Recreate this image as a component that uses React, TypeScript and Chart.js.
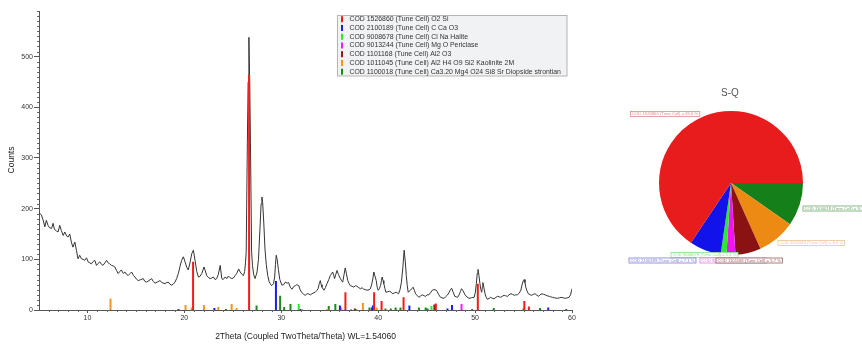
import React, { useEffect, useRef } from 'react';
import { Chart, registerables } from 'chart.js';
Chart.register(...registerables);

// ---------- diffractogram ----------
const twoTheta = [
  5.0, 5.24, 5.45, 5.6, 5.76, 5.93, 6.1, 6.3, 6.45, 6.6, 6.8, 6.97, 7.14, 7.3, 7.5, 7.66, 7.85, 8.0, 8.17, 8.34,
  8.5, 8.7, 8.86, 9.03, 9.2, 9.38, 9.55, 9.72, 9.9, 10.07, 10.25, 10.4, 10.6, 10.76, 10.93, 11.1, 11.28, 11.45, 11.6, 11.8,
  11.97, 12.14, 12.3, 12.48, 12.65, 12.83, 13.0, 13.17, 13.35, 13.5, 13.7, 13.86, 14.0, 14.2, 14.4, 14.55, 14.75, 14.9, 15.05, 15.24,
  15.5, 15.76, 15.9, 16.1, 16.35, 16.62, 16.8, 16.97, 17.2, 17.48, 17.7, 18.0, 18.15, 18.34, 18.5, 18.7, 18.85, 19.03, 19.2, 19.38,
  19.55, 19.72, 19.9, 20.07, 20.25, 20.4, 20.6, 20.76, 20.93, 21.1, 21.28, 21.45, 21.6, 21.8, 22.03, 22.15, 22.3, 22.5, 22.65, 22.8,
  23.0, 23.17, 23.34, 23.5, 23.7, 23.86, 24.0, 24.2, 24.4, 24.55, 24.7, 24.9, 25.05, 25.24, 25.4, 25.6, 25.76, 25.95, 26.1, 26.22,
  26.3, 26.38, 26.5, 26.58, 26.66, 26.74, 26.82, 26.94, 27.03, 27.15, 27.3, 27.5, 27.65, 27.8, 27.92, 28.0, 28.08, 28.2, 28.32, 28.45,
  28.6, 28.75, 28.86, 29.0, 29.2, 29.32, 29.4, 29.48, 29.58, 29.7, 29.85, 30.07, 30.25, 30.41, 30.6, 30.76, 30.93,
  31.1, 31.27, 31.45, 31.6, 31.8, 31.95, 32.1, 32.3, 32.48, 32.65, 32.8, 33.0, 33.17, 33.35, 33.5, 33.65, 33.8, 33.92, 34.03, 34.12,
  34.2, 34.4, 34.55, 34.72, 34.9, 35.07, 35.2, 35.3, 35.42, 35.5, 35.62, 35.75, 35.9, 36.1, 36.22, 36.34, 36.48, 36.6, 36.72, 36.86,
  37.0, 37.13, 37.3, 37.48, 37.65, 37.8, 38.0, 38.17, 38.35, 38.5, 38.7, 38.86, 39.05, 39.2, 39.35, 39.45, 39.55, 39.65, 39.8, 39.9,
  40.0, 40.12, 40.24, 40.34, 40.41, 40.5, 40.58, 40.7, 40.8, 41.0, 41.17, 41.35, 41.5, 41.7, 41.86, 42.0, 42.1, 42.25, 42.4, 42.55,
  42.68, 42.8, 42.9, 43.0, 43.1, 43.2, 43.34, 43.47, 43.6, 43.75, 43.86, 44.0, 44.2, 44.4, 44.55, 44.75, 44.9, 45.05, 45.24, 45.4,
  45.58, 45.75, 45.86, 46.0, 46.1, 46.25, 46.44, 46.6, 46.8, 46.95, 47.13, 47.3, 47.45, 47.58, 47.72, 47.9, 48.05, 48.2, 48.35, 48.48,
  48.6, 48.75, 48.96, 49.15, 49.37, 49.6, 49.9, 50.03, 50.13, 50.22, 50.3, 50.4, 50.5, 50.6, 50.68, 50.75, 50.8, 50.9, 51.03, 51.15,
  51.27, 51.45, 51.6, 51.8, 51.96, 52.15, 52.3, 52.5, 52.65, 52.8, 53.0, 53.15, 53.34, 53.5, 53.68, 53.85, 54.03, 54.2, 54.37, 54.55,
  54.72, 54.85, 54.98, 55.06, 55.15, 55.23, 55.35, 55.5, 55.68, 55.85, 56.0, 56.2, 56.38, 56.55, 56.7, 56.9, 57.05, 57.23, 57.45, 57.65,
  57.8, 58.0, 58.2, 58.5, 58.7, 58.86, 59.1, 59.3, 59.5, 59.7, 59.85, 59.95, 60.0,
];
const counts = [
  192, 188, 176, 164, 177, 167, 162, 161, 171, 159, 156, 154, 167, 157, 147, 154, 146, 144, 150, 134,
  124, 134, 118, 101, 108, 101, 100, 98, 103, 95, 93, 91, 96, 98, 88, 92, 95, 90, 88, 93,
  98, 93, 91, 88, 87, 85, 78, 72, 76, 79, 72, 75, 71, 68, 72, 75, 68, 65, 61, 58,
  60, 62, 57, 55, 58, 62, 56, 53, 55, 58, 54, 52, 54, 55, 51, 49, 51, 55, 62, 72,
  86, 98, 105, 95, 84, 79, 95, 111, 118, 98, 76, 65, 66, 72, 85, 78, 68, 64, 62, 63,
  65, 60, 62, 70, 88, 62, 60, 65, 62, 67, 64, 62, 63, 68, 72, 81, 75, 70, 68, 76,
  91, 115, 330, 450, 538, 450, 330, 115, 88, 70, 62, 75, 100, 160, 210, 223, 212, 170, 120, 90,
  68, 56, 52, 48, 52, 65, 90, 108, 100, 80, 60, 49, 50, 55, 53, 54, 45,
  41, 46, 48, 50, 48, 40, 35, 31, 29, 32, 32, 30, 32, 34, 35, 38, 42, 52, 58, 50,
  45, 39, 44, 52, 60, 68, 72, 75, 68, 62, 70, 78, 70, 62, 58, 55, 70, 83, 72, 58,
  52, 48, 47, 45, 48, 47, 44, 42, 44, 41, 40, 39, 40, 42, 52, 62, 75, 68, 58, 45,
  39, 42, 48, 58, 65, 58, 52, 42, 35, 36, 37, 35, 32, 34, 35, 33, 32, 40, 55, 85,
  118, 95, 68, 48, 35, 37, 39, 42, 45, 38, 32, 29, 25, 28, 30, 28, 27, 30, 30, 34,
  39, 40, 40, 39, 36, 30, 25, 24, 23, 26, 29, 34, 40, 43, 36, 27, 26, 25, 30, 36,
  42, 38, 30, 26, 23, 24, 25, 35, 52, 72, 80, 68, 52, 40, 35, 45, 54, 45, 32, 25,
  21, 23, 25, 23, 22, 25, 27, 26, 25, 27, 29, 28, 27, 30, 32, 31, 29, 30, 30, 33,
  39, 50, 58, 60, 54, 45, 38, 32, 30, 29, 31, 32, 29, 27, 30, 32, 31, 30, 28, 27,
  26, 25, 24, 23, 24, 25, 24, 23, 24, 25, 30, 38, 42,
];

// ---------- reference patterns (sticks) ----------
const phaseNames = [
  'COD 1526860 (Tune Cell) O2 Si',
  'COD 2100189 (Tune Cell) C Ca O3',
  'COD 9008678 (Tune Cell) Cl Na Halite',
  'COD 9013244 (Tune Cell) Mg O Periclase',
  'COD 1101168 (Tune Cell) Al2 O3',
  'COD 1011045 (Tune Cell) Al2 H4 O9 Si2 Kaolinite 2M',
  'COD 1100018 (Tune Cell) Ca3.20 Mg4 O24 Si8 Sr Diopside strontian',
];
const phaseColors = ['#f01c1c', '#1c1cf0', '#22ee22', '#f020f0', '#8e1a1a', '#f7941d', '#1a8a1a'];

const quartzPos = [20.9, 26.68, 36.62, 39.58, 40.35, 42.62, 45.95, 50.28, 55.08, 55.55];
const quartzInt = [95, 464, 35, 35, 18, 25, 13, 52, 18, 7];
const calcitePos = [23.1, 29.45, 36.05, 39.45, 43.22, 47.15, 47.62, 57.55];
const calciteInt = [4, 57, 9, 9, 9, 3, 10, 5];
const halitePos = [31.8, 45.5];
const haliteInt = [12, 8];
const periclasePos = [48.6];
const periclaseInt = [12];
const aluminaPos = [19.4, 31.95, 37.6, 39.35, 45.8];
const aluminaInt = [2, 2, 3, 5, 11];
const kaolinitePos = [12.38, 20.12, 20.75, 22.02, 23.5, 24.88, 25.38, 32.1, 34.75, 36.2, 37.2, 37.72, 38.42, 39.85, 54.98];
const kaoliniteInt = [22, 10, 5, 10, 6, 12, 4, 2, 2, 5, 2, 2, 14, 5, 4];
const diopsidePos = [24.3, 27.45, 29.88, 30.3, 30.95, 34.9, 35.58, 39.1, 40.75, 41.3, 41.8, 42.3, 44.2, 44.9, 45.1, 49.7, 51.92, 56.7, 59.4];
const diopsideInt = [2, 9, 28, 6, 12, 8, 12, 5, 3, 3, 5, 5, 5, 5, 3, 2, 4, 4, 2];

const stickPos = [quartzPos, calcitePos, halitePos, periclasePos, aluminaPos, kaolinitePos, diopsidePos];
const stickInt = [quartzInt, calciteInt, haliteInt, periclaseInt, aluminaInt, kaoliniteInt, diopsideInt];

const xTickValues = [10, 20, 30, 40, 50, 60];
const yTickValues = [0, 100, 200, 300, 400, 500];

// ---------- semi-quantitative pie ----------
const pieLabels = [
  'COD 1100018 (Tune Cell) = 9.7 %',
  'COD 1011045 (Tune Cell) = 8.6 %',
  'COD 1101168 (Tune Cell) = 5.7 %',
  'COD 9013244 (Tune Cell) = 2.0 %',
  'COD 9008678 (Tune Cell) = 1.3 %',
  'COD 2100189 (Tune Cell) = 7.1 %',
  'COD 1526860 (Tune Cell) = 65.6 %',
];
const pieValues = [9.7, 8.6, 5.7, 2.0, 1.3, 7.1, 65.6];
const pieColors = ['#15801a', '#ec8a14', '#8a1212', '#f014f0', '#2ee82e', '#1212ea', '#e81c1c'];

const FONT = '"Liberation Sans", Arial, sans-serif';

export default function App() {
  const xrdRef = useRef<HTMLCanvasElement>(null);
  const pieRef = useRef<HTMLCanvasElement>(null);

  useEffect(() => {
    const curve = twoTheta.map((x, i) => ({ x, y: counts[i] }));
    const stickSets = stickPos.map((pos, k) => ({
      type: 'line' as const,
      label: phaseNames[k],
      data: pos.flatMap((p, i) => [
        { x: p, y: 0 },
        { x: p, y: stickInt[k][i] },
        { x: p, y: null as any },
      ]),
      borderColor: phaseColors[k],
      borderWidth: 2,
      pointRadius: 0,
      spanGaps: false,
      borderCapStyle: 'butt' as const,
      order: 1,
    }));

    const overlay = {
      id: 'xrdOverlay',
      afterDraw(chart: any) {
        const ctx = chart.ctx;
        const xs = chart.scales.x;
        const ys = chart.scales.y;
        const area = chart.chartArea;
        ctx.save();
        ctx.strokeStyle = '#666';
        ctx.lineWidth = 1;
        ctx.beginPath();
        for (let v = 6; v < 60; v++) {
          if (v % 10 === 0) continue;
          const px = Math.round(xs.getPixelForValue(v)) + 0.5;
          ctx.moveTo(px, area.bottom);
          ctx.lineTo(px, area.bottom + 2);
        }
        for (let v = 10; v <= 590; v += 10) {
          if (v % 100 === 0) continue;
          const py = Math.round(ys.getPixelForValue(v)) + 0.5;
          ctx.moveTo(area.left - 2, py);
          ctx.lineTo(area.left, py);
        }
        ctx.stroke();

        // axis titles
        ctx.fillStyle = '#222';
        ctx.font = `8.5px ${FONT}`;
        ctx.textAlign = 'center';
        ctx.textBaseline = 'middle';
        ctx.fillText('2Theta (Coupled TwoTheta/Theta) WL=1.54060', (area.left + area.right) / 2, 336.5);
        ctx.save();
        ctx.translate(11.5, 160);
        ctx.rotate(-Math.PI / 2);
        ctx.fillText('Counts', 0, 0);
        ctx.restore();

        // legend box
        ctx.fillStyle = '#f1f2f4';
        ctx.fillRect(337.5, 15.5, 229.5, 60.5);
        ctx.strokeStyle = '#b5b5b5';
        ctx.strokeRect(337.5, 15.5, 229.5, 60.5);
        ctx.font = `6.9px ${FONT}`;
        ctx.textAlign = 'left';
        phaseNames.forEach((name, i) => {
          const cy = 19.2 + i * 8.75;
          ctx.fillStyle = phaseColors[i];
          ctx.fillRect(341, cy - 3, 2, 6);
          ctx.fillStyle = '#333';
          ctx.fillText(name, 349.5, cy);
        });
        ctx.restore();
      },
    };

    const xrd = new Chart(xrdRef.current!, {
      type: 'line',
      data: {
        datasets: [
          {
            label: 'scan',
            data: curve,
            borderColor: '#333333',
            borderWidth: 1,
            pointRadius: 0,
            tension: 0,
            order: 10,
          } as any,
          ...stickSets,
        ],
      },
      options: {
        animation: false,
        responsive: false,
        maintainAspectRatio: false,
        devicePixelRatio: 1,
        layout: { padding: { left: 0, right: 28, top: 11, bottom: 0 } },
        plugins: { legend: { display: false }, tooltip: { enabled: false }, title: { display: false } },
        scales: {
          x: {
            type: 'linear',
            min: 5,
            max: 60,
            afterBuildTicks: (s: any) => {
              s.ticks = xTickValues.map((v) => ({ value: v }));
            },
            afterFit: (s: any) => {
              s.height = 34;
            },
            grid: { display: true, drawOnChartArea: false, drawTicks: true, tickLength: 3, color: '#555' },
            border: { display: true, color: '#555', width: 1 },
            ticks: { font: { family: FONT, size: 7 }, color: '#333', padding: 1, maxRotation: 0, autoSkip: false },
          },
          y: {
            type: 'linear',
            min: 0,
            max: 590,
            afterBuildTicks: (s: any) => {
              s.ticks = yTickValues.map((v) => ({ value: v }));
            },
            afterFit: (s: any) => {
              s.width = 39;
            },
            grid: { display: true, drawOnChartArea: false, drawTicks: true, tickLength: 5, color: '#555' },
            border: { display: true, color: '#555', width: 1 },
            ticks: { font: { family: FONT, size: 7 }, color: '#333', padding: 1, autoSkip: false },
          },
        },
      } as any,
      plugins: [overlay],
    });

    const labelBoxes = [
      { x: 203, y: 206, c: '#6aa86a' },
      { x: 178, y: 240.5, c: '#e6c79a' },
      { x: 116, y: 258, c: '#9a5a5a' },
      { x: 100, y: 258, c: '#e07ae0' },
      { x: 71, y: 252.5, c: '#8ee08e' },
      { x: 29, y: 258, c: '#7a7ad8' },
      { x: 30.5, y: 111.5, c: '#e28a8a' },
    ];
    const drawOrder = [6, 0, 1, 4, 5, 3, 2];

    const pieOverlay = {
      id: 'pieOverlay',
      afterDraw(chart: any) {
        const ctx = chart.ctx;
        ctx.save();
        ctx.fillStyle = '#555';
        ctx.font = `10px ${FONT}`;
        ctx.textAlign = 'center';
        ctx.textBaseline = 'middle';
        ctx.fillText('S-Q', 130, 93);
        ctx.font = `4.2px ${FONT}`;
        ctx.textAlign = 'left';
        drawOrder.forEach((i) => {
          const b = labelBoxes[i];
          const w = ctx.measureText(pieLabels[i]).width + 3;
          ctx.fillStyle = '#ffffff';
          ctx.fillRect(b.x, b.y, w, 5);
          ctx.strokeStyle = b.c;
          ctx.lineWidth = 0.8;
          ctx.strokeRect(b.x, b.y, w, 5);
          ctx.fillStyle = b.c;
          ctx.fillText(pieLabels[i], b.x + 1.5, b.y + 2.6);
        });
        ctx.restore();
      },
    };

    const pie = new Chart(pieRef.current!, {
      type: 'pie',
      data: {
        labels: pieLabels,
        datasets: [{ data: pieValues, backgroundColor: pieColors, borderWidth: 0 }],
      },
      options: {
        animation: false,
        responsive: false,
        maintainAspectRatio: false,
        devicePixelRatio: 1,
        rotation: 90,
        layout: { padding: { left: 59, right: 59, top: 111, bottom: 89 } },
        plugins: { legend: { display: false }, tooltip: { enabled: false } },
      } as any,
      plugins: [pieOverlay],
    });

    return () => {
      xrd.destroy();
      pie.destroy();
    };
  }, []);

  return (
    <div style={{ position: 'fixed', left: 0, top: 0, width: 862, height: 344, background: '#fff' }}>
      <canvas ref={xrdRef} width={600} height={344} style={{ position: 'absolute', left: 0, top: 0, width: 600, height: 344 }} />
      <canvas ref={pieRef} width={262} height={344} style={{ position: 'absolute', left: 600, top: 0, width: 262, height: 344 }} />
    </div>
  );
}
